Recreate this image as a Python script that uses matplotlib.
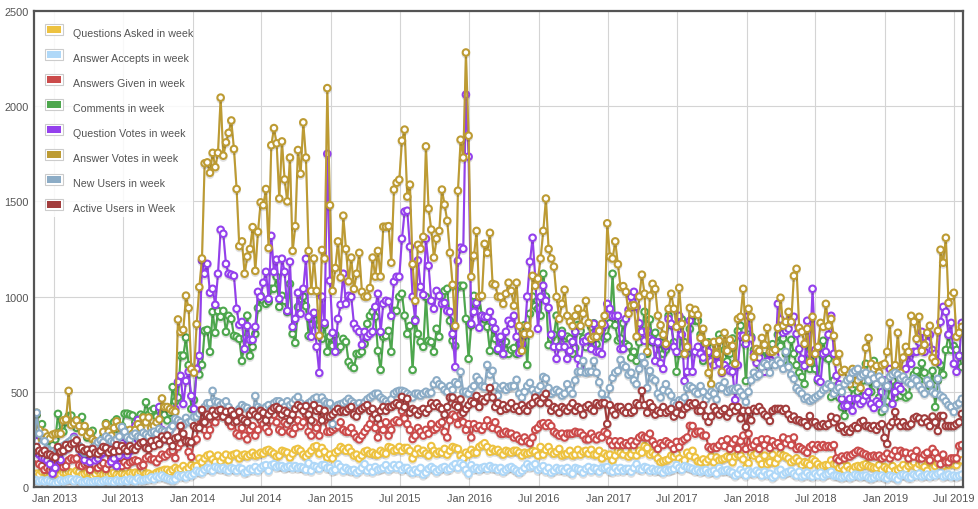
import matplotlib
matplotlib.use("Agg")
import matplotlib.pyplot as plt
import matplotlib.dates as mdates
import matplotlib.patheffects as pe
from matplotlib.legend_handler import HandlerBase
from matplotlib.patches import Patch, Rectangle
import pandas as pd

plt.rcParams['font.family'] = ['Liberation Sans', 'DejaVu Sans']

questions = [
60,70,65,80,85,70,65,
70,65,70,65,75,75,80,75,70,85,80,65,70,75,70,60,70,85,70,65,65,65,70,75,65,60,
70,65,60,75,70,75,70,80,85,70,70,60,65,75,80,85,90,90,80,90,100,90,95,110,90,100,
115,105,110,150,130,150,165,170,145,130,165,135,155,170,140,165,170,175,150,165,170,160,170,180,165,170,
180,175,190,195,185,175,160,165,190,185,180,155,175,195,200,190,170,160,175,190,210,215,175,205,185,155,
170,150,180,190,210,200,190,205,185,165,170,150,165,185,190,175,180,170,170,190,180,175,210,205,190,195,
210,190,205,205,190,150,175,200,180,190,175,165,215,190,175,185,180,200,170,190,210,205,200,165,150,180,
170,195,180,180,210,220,230,210,185,200,190,195,180,170,190,185,180,190,190,180,165,180,175,180,190,185,
165,210,170,195,210,185,175,185,200,165,170,175,190,165,170,195,170,185,190,175,195,170,170,190,150,175,
165,170,140,165,190,180,170,195,160,170,195,165,190,180,215,205,170,180,170,150,130,135,140,145,165,160,
175,150,130,140,180,165,190,155,135,130,145,130,145,160,130,155,140,145,150,160,155,130,160,170,165,145,
100,125,180,165,175,145,120,165,120,130,170,125,150,175,165,160,150,130,140,150,135,115,130,125,115,145,
135,120,105,110,115,115,140,120,120,100,110,90,110,90,85,105,110,105,115,120,110,105,100,100,115,90,
105,95,90,110,85,90,100,115,95,110,120,130,100,120,125,105,85,130,130,110,125,100,110,135,115,125,
120,115,140,140]

accepts = [
40,35,30,35,30,35,30,
25,20,25,35,30,35,40,40,30,40,35,25,25,30,25,25,30,30,25,30,35,30,30,25,35,30,
30,35,30,40,35,30,45,35,35,40,40,50,40,55,50,60,50,45,40,35,40,60,55,60,50,65,
60,70,85,80,75,90,100,95,85,105,100,95,100,90,85,100,95,85,100,95,75,80,95,90,105,85,
100,110,115,85,115,120,105,110,110,100,105,110,100,110,100,105,100,90,125,85,110,105,95,115,115,100,
100,85,90,120,105,85,100,90,85,90,75,85,100,120,85,100,80,105,90,95,100,115,90,100,115,100,
115,90,100,100,85,75,90,80,100,65,75,95,105,95,80,90,100,105,90,95,110,120,100,125,115,90,
70,115,95,100,90,100,105,95,110,100,100,90,100,80,90,100,105,95,85,75,85,100,120,105,110,120,
90,100,110,85,100,75,85,100,90,95,85,100,80,70,100,95,90,75,95,105,85,100,95,80,100,100,
105,85,80,100,85,100,85,95,95,80,100,120,95,90,105,100,85,95,85,90,85,75,90,85,90,95,
115,100,90,110,105,100,95,85,90,80,85,90,75,80,85,70,100,85,85,90,80,75,60,70,90,75,
60,85,75,70,85,75,60,80,65,70,50,60,85,90,65,75,80,85,70,60,80,55,60,75,60,55,
70,60,75,55,65,70,80,60,60,55,50,55,60,50,55,65,60,55,60,60,50,45,50,60,55,60,
50,45,60,55,50,40,60,65,60,50,50,65,60,70,55,60,65,55,65,60,70,75,55,60,65,55,
60,55,60,65]

answers = [
140,150,120,110,90,100,90,
90,100,130,130,105,110,140,150,145,150,115,110,120,125,90,130,115,100,115,125,95,120,150,125,150,120,
110,130,115,130,135,140,135,110,115,150,160,145,145,130,150,170,160,170,185,190,152,210,230,260,240,184,
158,240,250,400,340,300,270,300,350,340,370,390,370,380,340,320,340,280,270,310,270,250,300,320,270,300,
350,330,310,290,350,380,340,300,290,340,330,290,280,310,350,320,340,380,290,270,340,310,270,370,350,290,
290,300,310,320,340,300,290,290,310,280,260,250,270,290,310,330,360,310,260,330,300,340,270,300,340,350,
340,400,360,330,300,252,270,310,290,270,300,280,330,300,310,330,340,290,260,350,380,370,330,380,340,300,
330,260,330,310,320,300,320,350,320,310,340,300,280,280,290,280,280,260,270,250,240,260,240,230,260,300,
310,330,335,320,335,320,290,280,270,280,260,280,280,280,290,285,285,270,250,250,280,260,250,270,260,290,
280,240,220,240,220,240,220,230,220,240,220,240,260,270,260,260,280,240,220,200,230,220,240,230,220,200,
237,210,240,250,260,321,320,280,290,290,270,270,210,200,210,205,220,240,215,250,200,230,250,200,240,270,
200,280,210,220,240,200,250,220,250,205,240,220,230,210,260,230,250,220,260,200,210,200,190,180,210,220,
200,220,210,220,210,215,210,220,150,140,160,150,165,160,170,180,190,185,175,170,160,160,165,160,165,150,
160,175,150,170,190,160,190,180,180,150,175,160,190,150,150,170,180,140,200,180,150,120,170,130,130,150,
150,150,215,220]

comments = [
300,380,280,330,240,260,210,
220,250,384,290,290,340,373,375,340,310,350,368,300,260,280,295,230,210,230,260,335,320,290,340,355,300,
320,385,385,380,375,340,360,380,370,445,380,400,410,370,400,420,380,350,390,525,450,470,690,690,785,640,
410,457,620,590,641,820,825,710,920,810,925,894,925,815,899,883,794,789,778,662,780,900,689,736,804,940,
1004,978,962,973,1041,1041,1104,946,1004,978,920,1067,804,757,946,988,1000,950,794,850,880,910,850,778,850,710,
790,741,800,720,736,778,762,657,636,625,699,699,710,752,857,899,920,894,715,615,789,794,820,710,925,925,
999,1015,900,804,846,615,880,804,762,736,999,768,762,710,831,789,1004,1030,1041,873,768,741,1051,1057,1057,883,
673,850,1004,950,998,900,880,841,715,840,778,715,762,699,762,699,720,730,699,750,800,850,641,910,1000,950,
936,900,1120,1000,745,780,800,900,740,820,780,790,780,700,730,850,820,780,735,790,840,860,750,800,830,780,
790,860,1120,850,770,780,860,750,740,680,710,662,760,820,920,700,880,760,810,690,760,700,720,900,850,760,
605,700,880,760,700,830,890,873,873,800,662,720,760,700,680,740,800,780,720,660,700,780,650,820,847,760,
557,800,789,720,700,640,680,720,640,700,750,720,800,740,780,700,641,773,700,640,600,578,541,760,620,700,
620,560,700,768,680,673,473,560,500,470,420,373,430,450,520,540,500,470,560,647,560,500,662,560,470,394,
430,450,520,560,470,530,480,500,470,480,560,590,610,560,650,600,560,530,610,420,560,640,590,720,800,720,
740,720,690,630]

question_votes = [
225,240,170,155,150,140,120,
70,100,175,142,190,200,210,240,263,235,200,180,142,170,131,155,140,150,170,180,190,200,131,150,110,165,
230,268,168,190,230,320,352,280,260,230,220,250,270,300,420,300,250,280,300,320,410,552,584,436,557,605,
478,410,620,689,1190,1120,1172,1020,1041,957,1120,1351,1330,1172,1120,1115,1109,936,852,867,725,846,773,773,841,1025,
999,1073,1130,988,1319,1130,1194,988,1199,1130,925,1183,841,883,1020,910,1041,1199,894,789,915,736,599,1000,862,1750,
1083,810,710,883,957,1120,962,1004,999,857,831,815,747,815,789,804,815,946,1015,815,962,978,973,899,1078,1104,
1104,1304,1446,1451,1262,999,873,1190,1051,1009,1304,1162,978,936,1030,1004,962,967,925,920,804,630,1188,1257,1251,2061,
1735,857,920,967,836,899,894,894,920,867,831,725,789,699,815,873,857,899,789,704,752,800,1000,1183,1309,1100,
831,999,1057,978,941,800,736,673,736,804,736,673,715,762,815,673,636,762,768,789,725,857,710,710,699,850,
962,936,899,899,899,725,725,883,930,999,1025,946,860,815,768,820,778,768,662,760,650,620,740,883,857,736,
710,899,800,557,605,873,605,710,736,700,680,725,710,660,640,690,650,600,640,620,610,605,457,640,794,794,
752,899,780,700,652,680,610,605,660,700,710,690,962,880,810,820,831,883,894,804,725,673,636,873,700,1041,
720,568,552,700,710,800,899,700,584,540,463,426,426,463,400,463,463,436,452,480,499,436,415,450,436,499,
560,560,620,436,499,531,515,580,620,700,647,710,710,760,815,710,760,800,720,700,657,867,946,920,800,862,
647,605,689,862]

answer_votes = [
330,390,300,250,285,265,255,
275,280,280,280,350,355,505,325,335,350,320,290,320,270,285,250,240,235,240,290,330,290,270,310,345,320,
290,300,280,300,280,300,330,310,365,340,365,310,320,340,355,465,420,420,410,400,395,880,815,825,1005,940,
620,600,855,1050,1200,1700,1705,1650,1755,1680,1755,2045,1740,1810,1860,1925,1775,1565,1265,1290,1120,1210,1250,1365,1135,1340,
1495,1480,1565,1255,1795,1885,1805,1515,1815,1615,1500,1730,1240,1370,1770,1645,1915,1730,1240,1030,1200,1030,795,1245,1200,2095,
1480,1030,1150,1290,1100,1425,1250,1080,1205,1040,1120,1230,1025,1000,1000,1045,1205,1105,1240,1105,1367,1367,1370,1178,1562,1598,
1614,1819,1877,1525,1588,1170,978,1272,1251,1314,1789,1462,1352,1205,1304,1345,1562,1483,1398,1230,1062,846,1556,1824,1730,2282,
1845,1104,1215,1345,1000,1004,1277,1230,1335,1067,1062,1000,999,962,1015,1073,1030,952,1073,846,715,804,846,804,1109,1057,
1094,1200,1345,1515,1250,1200,1157,999,883,962,1036,899,868,846,899,936,846,910,978,862,778,789,789,820,857,899,
1385,1210,1200,1290,1170,1050,1055,1025,910,952,955,790,1000,1115,1015,710,1005,1067,1040,900,850,800,752,936,1015,936,
841,1046,857,699,736,941,910,931,904,783,831,757,599,541,762,699,768,605,810,715,773,741,647,883,894,1041,
783,936,894,683,725,715,783,747,836,710,710,720,836,994,847,867,920,867,1109,1146,836,815,752,831,657,894,
699,736,862,841,962,847,883,794,657,699,605,615,560,540,620,590,560,520,610,731,783,647,620,636,600,640,
647,710,862,600,640,810,600,680,736,710,899,867,778,894,715,747,810,847,678,657,820,1246,1178,1309,967,1004,
1020,789,810,841]

new_users = [
200,390,280,220,240,200,190,
185,175,190,205,215,225,235,245,255,235,215,195,180,185,195,205,215,235,245,235,265,255,240,235,250,265,
315,290,260,250,270,280,265,260,285,275,265,285,290,280,305,295,290,280,300,320,358,350,340,325,363,340,
345,368,370,385,400,420,440,440,505,450,445,430,440,450,420,400,390,395,410,430,420,415,400,390,478,420,
410,400,420,430,410,440,450,450,440,420,450,430,440,460,473,440,420,430,440,450,463,470,430,470,450,440,
440,331,420,430,435,440,450,463,450,440,430,440,420,445,460,470,480,490,490,470,460,450,440,460,490,500,
505,505,500,490,480,470,490,490,480,490,500,490,495,540,560,540,530,510,500,530,510,550,540,605,500,500,
490,515,530,578,560,530,525,641,590,610,530,480,520,530,510,525,530,530,563,490,470,500,530,547,510,490,
510,530,578,570,520,490,500,510,500,480,490,540,510,490,560,605,605,662,600,605,605,662,600,550,490,455,
455,520,573,600,610,668,640,630,590,600,560,540,620,683,650,520,610,570,560,490,470,510,540,500,480,440,
430,455,450,470,520,530,520,500,490,530,500,460,480,500,490,460,530,520,550,500,510,515,510,520,500,480,
447,500,560,600,580,590,630,650,640,600,650,640,665,650,620,710,630,590,568,520,505,490,463,470,452,460,
470,480,490,510,520,540,530,490,510,520,500,540,560,570,600,610,620,580,590,600,560,590,570,540,580,560,
410,530,580,590,600,590,570,580,560,550,540,570,560,530,510,490,560,540,500,490,568,480,470,450,430,420,
394,430,440,463]

active_users = [
190,210,190,180,190,170,170,
160,155,210,185,190,220,205,225,230,245,200,205,190,195,175,200,180,175,190,210,205,180,195,185,220,190,
215,200,190,215,200,195,215,230,235,205,200,240,215,245,225,265,250,270,240,215,255,260,320,280,240,240,
235,320,310,310,405,340,380,370,400,380,400,405,370,395,350,400,380,345,395,360,350,340,380,400,380,370,
400,390,350,380,400,415,420,410,380,400,390,350,380,410,430,420,400,425,380,350,430,400,410,350,400,370,
370,380,395,410,395,400,395,410,420,380,370,400,410,420,430,400,410,380,360,400,420,400,420,420,430,440,
430,473,420,463,390,410,400,380,400,410,390,410,440,425,440,420,410,380,420,470,470,430,420,460,390,410,
430,450,440,478,420,460,450,470,520,470,420,440,400,430,410,420,440,410,420,400,430,410,400,430,440,470,
450,440,470,489,440,400,420,410,390,420,410,400,420,440,400,420,410,380,420,430,410,400,440,430,440,440,
331,430,400,380,420,420,400,390,420,390,400,440,430,505,430,390,440,420,380,400,390,420,390,400,410,370,
390,430,380,410,420,440,430,440,400,400,430,370,342,370,420,400,380,400,410,370,390,420,400,420,360,400,
315,400,350,410,400,420,400,380,370,347,400,410,410,410,400,410,380,358,370,350,350,340,340,321,373,340,
340,320,320,330,320,330,368,340,360,310,320,290,300,289,310,320,310,340,347,320,320,310,320,300,320,330,
258,226,320,340,394,340,320,340,320,320,330,360,368,360,340,360,340,320,370,340,294,373,373,320,320,320,
320,330,340,384]

labels = ["Questions Asked in week", "Answer Accepts in week", "Answers Given in week",
          "Comments in week", "Question Votes in week", "Answer Votes in week",
          "New Users in week", "Active Users in Week"]
colors = ["#edc240", "#afd8f8", "#cb4b4b", "#4da74d", "#9440ed", "#bd9b33", "#8cacc6", "#a23c3c"]
series = [questions, accepts, answers, comments, question_votes, answer_votes, new_users, active_users]

W, H = 979, 510
L, R, T, B = 34, 963, 12, 488
fig = plt.figure(figsize=(W / 100, H / 100), dpi=100)
ax = fig.add_axes([L / W, 1 - B / H, (R - L) / W, (B - T) / H])

dates = pd.date_range("2012-11-09", "2019-07-22", periods=len(questions))
shadow = [pe.SimpleLineShadow(offset=(0, -1.3), alpha=0.12, shadow_color="black"), pe.Normal()]
for vals, col, lab in zip(series, colors, labels):
    ax.plot(dates, vals, color=col, lw=1.5, marker="o", ms=4.7, mew=1.5,
            mfc="white", mec=col, label=lab, path_effects=shadow, zorder=3)

ax.set_xlim(pd.Timestamp("2012-11-09"), pd.Timestamp("2019-07-25"))
ax.set_ylim(0, 2500)
ax.set_yticks([0, 500, 1000, 1500, 2000, 2500])
ax.xaxis.set_major_locator(mdates.MonthLocator(bymonth=[1, 7]))
ax.xaxis.set_major_formatter(mdates.DateFormatter("%b %Y"))
ax.grid(True, color="#d4d4d4", lw=0.8, zorder=0)
ax.set_axisbelow(True)
ax.tick_params(length=0, labelsize=7.9, labelcolor="#545454")
ax.tick_params(axis="x", pad=4)
ax.tick_params(axis="y", pad=3.5)
for s in ax.spines.values():
    s.set_color("#545454")
    s.set_linewidth(1.6)
    s.set_zorder(6)

ax.add_patch(Rectangle((0, 1 - (218 - T) / (B - T)), (193 - L) / (R - L), (218 - T) / (B - T),
                       transform=ax.transAxes, fc="white", ec="none", alpha=0.85, zorder=4))


class Swatch(HandlerBase):
    def create_artists(self, legend, orig, xd, yd, w, h, fontsize, trans):
        dy = 2.0
        box = Rectangle((-xd, -yd + dy), w, h, fc="white", ec="#cccccc", lw=0.8, transform=trans)
        inner = Rectangle((-xd + 1.4, -yd + dy + 1.4), w - 2.8, h - 2.8, fc=orig.get_facecolor(), ec="none", transform=trans)
        return [box, inner]


handles = [Patch(facecolor=c, label=l) for c, l in zip(colors, labels)]
leg = ax.legend(handles=handles, loc="upper left",
                bbox_to_anchor=((45 - L) / (R - L), 1 - (27.5 - T) / (B - T)), borderaxespad=0,
                fontsize=7.65, labelcolor="#545454", frameon=False,
                handler_map={Patch: Swatch()}, handlelength=1.7, handleheight=1.23,
                handletextpad=0.94, labelspacing=1.31, borderpad=0)
leg.set_zorder(5)

fig.savefig("out.png", dpi=100)
